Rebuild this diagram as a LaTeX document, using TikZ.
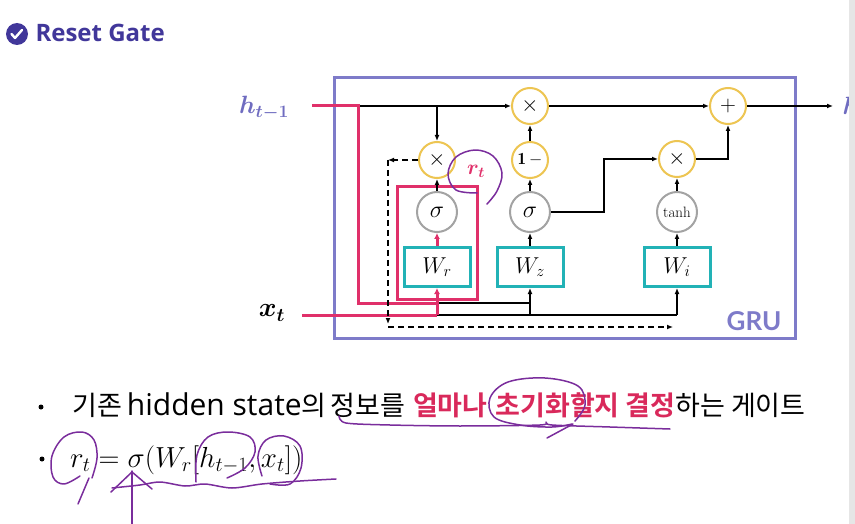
\RequirePackage{fix-cm}
\documentclass[tikz,border=0pt]{standalone}
\usepackage{amsmath,amssymb}
\usepackage{fontspec}
\setsansfont{Lato}
\newfontfamily\kofont{Noto Sans CJK KR}[BoldFont={Noto Sans CJK KR Bold}]
\newfontfamily\latfont{Open Sans}
\newfontfamily\titlefont{Open Sans}
\usetikzlibrary{arrows.meta,positioning,calc}
\definecolor{cgru}{HTML}{7E7BC9}
\definecolor{chlab}{HTML}{6F6CC0}
\definecolor{cpink}{HTML}{E0306A}
\definecolor{cteal}{HTML}{22B2B6}
\definecolor{cyel}{HTML}{EDC552}
\definecolor{cgry}{HTML}{A3A3A3}
\definecolor{ctitle}{HTML}{41379A}
\definecolor{cred}{HTML}{D9295B}
\definecolor{cnote}{HTML}{7A2D9C}
\definecolor{cedge}{HTML}{E6E6E6}
\newcommand{\gap}[1]{\hspace{#1pt}}

\begin{document}
\begin{tikzpicture}[x=1pt, y=-1pt,
  opnode/.style={circle, draw=cyel, line width=2pt, fill=white,
                 minimum size=36pt, inner sep=0pt, font=\fontsize{22}{22}\selectfont},
  actnode/.style={circle, draw=cgry, line width=2pt, fill=white,
                  minimum size=40pt, inner sep=0pt, font=\fontsize{24}{24}\selectfont},
  wnode/.style={draw=cteal, line width=3pt, fill=white, minimum width=66pt,
                minimum height=39pt, inner sep=0pt, font=\fontsize{23}{23}\selectfont},
  arr/.style={-{Latex[length=6pt,width=5pt]}, line width=1.4pt},
  dsh/.style={dash pattern=on 6pt off 4pt},
  pinkln/.style={draw=cpink, line width=3pt},
  note/.style={draw=cnote, line width=1.5pt, line cap=round, line join=round}
]
\useasboundingbox (0,0) rectangle (855,524);

%% Title
\node[circle, fill=ctitle, minimum size=22pt, inner sep=0pt] (chk) at (17,34) {};
\draw[white, line width=2.4pt, line cap=round, line join=round]
  ($(chk)+(-5.5,0)$) -- ++(3.5,4) -- ++(7,-8);
\node[anchor=west, text=ctitle, font=\titlefont\bfseries\fontsize{24}{24}\selectfont]
  (ttl) at (32,33) {Reset Gate};

%% GRU frame
\draw[cgru, line width=3pt] (334,78) rectangle (795,338);
\node[anchor=south east, text=cgru, font=\sffamily\bfseries\fontsize{26}{26}\selectfont]
  (grul) at (785,334) {GRU};

%% Gates
\node[wnode]   (wr) at (437,267) {$W_r$};
\node[wnode]   (wz) at (530,267) {$W_z$};
\node[wnode]   (wi) at (677,267) {$W_i$};
\node[actnode] (sr) at (437,212) {$\sigma$};
\node[actnode] (sz) at (530,212) {$\sigma$};
\node[actnode, font=\fontsize{15}{15}\selectfont] (th) at (677,212) {tanh};
\node[opnode]  (mr) at (437,160) {$\times$};
\node[opnode, font=\fontsize{17}{17}\selectfont] (om) at (530,160) {$\mathbf{1}\,{-}$};
\node[opnode]  (mh) at (530,106) {$\times$};
\node[opnode]  (mi) at (677,159) {$\times$};
\node[opnode]  (pl) at (728,106) {$+$};

%% Inputs / output
\node[text=chlab, font=\fontsize{25}{25}\selectfont] (hlab) at (264,108) {$\boldsymbol{h_{t-1}}$};
\node[font=\fontsize{27}{27}\selectfont] (xlab) at (272,313) {$\boldsymbol{x_t}$};
\node[anchor=west, text=chlab, font=\fontsize{25}{25}\selectfont] (hout) at (839,108) {$\boldsymbol{h_t}$};
\coordinate (hin) at (312,106);
\coordinate (hbr) at (358,106);
\coordinate (hdn) at (358,303);
\coordinate (hrj) at (437,303);
\coordinate (hzj) at (530,303);
\coordinate (hrt) at (437,106);
\coordinate (xin) at (302,315);
\coordinate (xrj) at (437,315);
\coordinate (xzj) at (530,315);
\coordinate (xij) at (677,315);
\coordinate (dtl) at (388,160);
\coordinate (dbl) at (388,324);
\coordinate (dbr) at (673,327);
\coordinate (zmid) at (604,212);
\coordinate (oend) at (833,106);

%% h_{t-1} path
\draw[arr] (hbr) -- (mh);
\draw[arr] (hrt) -- (mr);
\draw[line width=1.4pt] (hrj) -- (hzj);
\draw[pinkln] (hin) -- (hbr) -- (hdn) -- (hrj);

%% x_t path
\draw[line width=1.4pt] (xrj) -- (xij);
\draw[pinkln] (xin) -- (xrj);
\draw[arr] (xzj) -- (wz);
\draw[arr] (xij) -- (wi);
\draw[line width=1.4pt] (hzj) -- (xzj);

%% reset gate
\draw[pinkln] (397,187) rectangle (477,299);
\draw[pinkln, -{Latex[length=6pt,width=6pt]}] (xrj) -- (wr);
\draw[pinkln, -{Latex[length=6pt,width=6pt]}] (wr) -- (sr);
\draw[arr] (sr) -- (mr);
\node[text=cpink, font=\fontsize{21}{21}\selectfont] (rt) at (476,171) {$\boldsymbol{r_t}$};

%% dashed r_t * h
\draw[arr, dsh] (mr.west) -- (dtl);
\draw[arr, dsh] (dtl) -- (dbl);
\draw[arr, dsh] ($(dbl)+(0,3)$) -- (dbr);

%% update / candidate
\draw[arr] (wz) -- (sz);
\draw[arr] (sz) -- (om);
\draw[arr] (om) -- (mh);
\draw[arr] (sz.east) -- (zmid) |- (mi.west);
\draw[arr] (wi) -- (th);
\draw[arr] (th) -- (mi);
\draw[arr] (mi.east) -| (pl.south);
\draw[arr] (mh) -- (pl);
\draw[arr] (pl.east) -- (oend);

%% bullets
\node[circle, fill=black, minimum size=5pt, inner sep=0pt] (bul1) at (41,407) {};
\node[circle, fill=black, minimum size=5pt, inner sep=0pt] (bul2) at (42,459) {};
\node[anchor=west, inner sep=0pt, font=\kofont\fontsize{27}{27}\selectfont] (txt1) at (72,405)
  {기존\gap{5}{\latfont\fontsize{30}{30}\selectfont hidden state}의\gap{4}정보를\gap{8}%
   \textcolor{cred}{\bfseries 얼마나\gap{8}초기화할지\gap{6}결정}하는\gap{6}게이트};
\node[anchor=west, inner sep=0pt, font=\fontsize{29}{29}\selectfont] (txt2) at (70,460)
  {$r_t = \sigma(W_r[h_{t-1}, x_t])$};

%% handwritten marks
\draw[note] plot[smooth, tension=0.6] coordinates
  {(477,193) (456,190) (448,174) (456,157) (475,150) (493,156) (502,173) (497,191) (487,204)};
\draw[note] plot[smooth, tension=0.5] coordinates
  {(339,416) (346,423) (390,425) (460,426) (540,425) (546,422) (552,425) (610,427) (670,429)};
\draw[note] plot[smooth, tension=0.6] coordinates
  {(575,421) (585,405) (578,386) (545,378) (508,382) (490,398) (494,417) (520,425) (552,427) (572,424)};
\draw[note] (573,424) -- (547,438);
\draw[note] plot[smooth, tension=0.6] coordinates
  {(92,478) (97,458) (94,440) (82,432) (64,437) (52,456) (53,477) (64,484) (80,476)};
\draw[note] (89,478) -- (78,504);
\draw[note] plot[smooth, tension=0.6] coordinates
  {(196,482) (197,455) (208,437) (228,432) (250,437) (255,452) (245,468) (227,478)};
\draw[note] plot[smooth, tension=0.6] coordinates
  {(262,476) (258,456) (266,440) (284,436) (300,446) (301,468) (290,484) (270,484)};
\draw[note] plot[smooth, tension=0.5] coordinates
  {(112,488) (140,485) (160,482) (185,486) (205,484) (232,488) (262,484) (300,481) (336,479)};
\draw[note] (132,524) -- (132,471);
\draw[note] (111,492) -- (132,472) -- (152,489);

%% screen edge
\fill[cedge] (849,0) rectangle (855,524);
\end{tikzpicture}
\end{document}
